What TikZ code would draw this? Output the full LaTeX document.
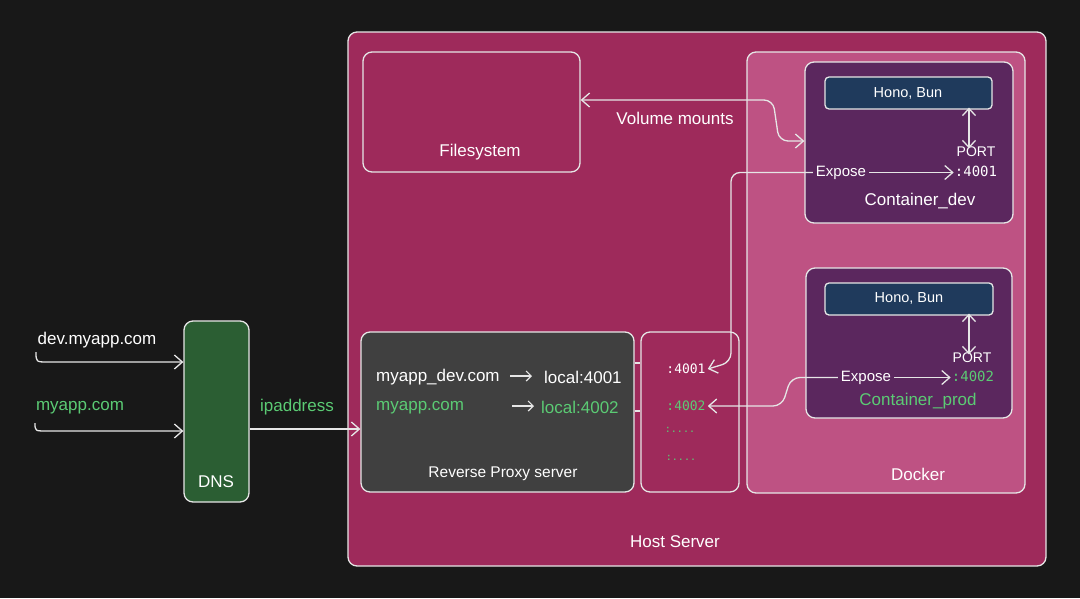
\documentclass[tikz,border=0pt]{standalone}
\usepackage{fontspec}
\setmainfont{Liberation Sans}
\newfontfamily\monof{DejaVu Sans Mono}
\usetikzlibrary{arrows.meta}
\definecolor{bg}{HTML}{181818}
\definecolor{host}{HTML}{9E2A5B}
\definecolor{dock}{HTML}{BE5283}
\definecolor{cont}{HTML}{5B275E}
\definecolor{hono}{HTML}{1F3A5C}
\definecolor{proxy}{HTML}{404040}
\definecolor{dnsc}{HTML}{2B5E33}
\definecolor{grn}{HTML}{5BCB74}
\definecolor{ln}{HTML}{E6E6E6}
\begin{document}
\begin{tikzpicture}[x=1pt,y=-1pt,
  box/.style={draw=ln,line width=1.3pt,rounded corners=9pt,inner sep=0pt},
  lbl/.style={text=white,inner sep=0pt,yshift=-1.5pt,font=\fontsize{17}{20}\selectfont},
  sml/.style={text=white,inner sep=0pt,yshift=-1.5pt,font=\fontsize{15}{18}\selectfont},
  mono/.style={text=white,inner sep=0pt,font=\fontsize{14}{17}\monof},
  conn/.style={draw=ln,line width=1.3pt,rounded corners=9pt,-{Straight Barb[length=8pt,width=14pt]}},
  dconn/.style={draw=ln,line width=1.3pt,rounded corners=9pt,{Straight Barb[length=7pt,width=13pt]}-{Straight Barb[length=7pt,width=13pt]}},
  sconn/.style={draw=ln,line width=1.2pt,-{Straight Barb[length=5pt,width=10pt]}},
  plain/.style={draw=ln,line width=1.3pt}]
\fill[bg] (0,0) rectangle (1080,598);
\useasboundingbox (0,0) rectangle (1080,598);
% boxes
\node[box,fill=host,minimum width=698pt,minimum height=534pt] (host) at (697,299) {};
\node[box,fill=host,minimum width=217pt,minimum height=120pt] (fs) at (471.5,112) {};
\node[box,fill=dock,minimum width=278pt,minimum height=441pt] (docker) at (886,272.5) {};
\node[box,fill=cont,minimum width=208pt,minimum height=161pt] (cdev) at (909,142.5) {};
\node[box,fill=hono,rounded corners=4pt,minimum width=167pt,minimum height=32pt] (hono1) at (908.5,93) {};
\node[box,fill=cont,minimum width=206pt,minimum height=150pt] (cprod) at (909,343) {};
\node[box,fill=hono,rounded corners=4pt,minimum width=168pt,minimum height=32pt] (hono2) at (909,299) {};
\node[box,fill=proxy,minimum width=273pt,minimum height=160pt] (proxy) at (497.5,412) {};
\node[box,fill=host,minimum width=98pt,minimum height=160pt] (ports) at (690,412) {};
\node[box,fill=dnsc,minimum width=65pt,minimum height=181pt] (dns) at (216.5,411.5) {};
% labels
\node[lbl] (hostl) at (675,540) {Host Server};
\node[lbl] (fsl) at (480,151) {Filesystem};
\node[lbl] (dockl) at (918,473) {Docker};
\node[lbl] (voll) at (675,117) {Volume mounts};
\node[sml,font=\fontsize{14.5}{17}\selectfont] (h1l) at (908,92) {Hono, Bun};
\node[sml,font=\fontsize{14.5}{17}\selectfont] (h2l) at (909,297) {Hono, Bun};
\node[sml,font=\fontsize{14}{17}\selectfont] (port1) at (976,150) {PORT};
\node[sml,font=\fontsize{14}{17}\selectfont] (port2) at (972,356) {PORT};
\node[mono] (p1) at (976,171) {:4001};
\node[mono,text=grn] (p2) at (973,376) {:4002};
\node[sml] (ex1) at (841,171) {Expose};
\node[sml] (ex2) at (866,376) {Expose};
\node[lbl] (cdevl) at (920,200) {Container\_dev};
\node[lbl,text=grn] (cprodl) at (918,400) {Container\_prod};
% proxy
\node[lbl,anchor=west] (r1a) at (376,376) {myapp\_dev.com};
\node[lbl,anchor=west] (r1b) at (544,376) {local:4001};
\node[lbl,anchor=west,text=grn] (r2a) at (376,406) {myapp.com};
\node[lbl,anchor=west,text=grn] (r2b) at (541,406) {local:4002};
\node[sml,font=\fontsize{15.5}{18}\selectfont] (proxyl) at (503,472) {Reverse Proxy server};
\coordinate (r1s) at (510,376); \coordinate (r2s) at (512,406);
% ports
\node[mono,font=\fontsize{13}{15}\monof] (q1) at (686,369) {:4001};
\node[mono,font=\fontsize{13}{15}\monof,text=grn] (q2) at (686,406) {:4002};
\node[mono,font=\fontsize{10}{12}\monof,text=grn] (q3) at (680,430) {:....};
\node[mono,font=\fontsize{10}{12}\monof,text=grn] (q4) at (681,458) {:....};
% dns side
\node[lbl] (dnsl) at (216,480) {DNS};
\node[lbl] (devl) at (97,339) {dev.myapp.com};
\node[lbl,text=grn] (appl) at (80,406) {myapp.com};
\node[lbl,text=grn] (ipl) at (297,406) {ipaddress};
\coordinate (s1) at (36,352); \coordinate (s2) at (35,423);
\coordinate (y1) at (0,362); \coordinate (y2) at (0,431); \coordinate (y3) at (0,429);
% connectors
\draw[conn,rounded corners=0pt] (s1) .. controls (36,362) .. (48,362) -- (dns.west |- y1);
\draw[conn,rounded corners=0pt] (s2) .. controls (35,431) .. (47,431) -- (dns.west |- y2);
\draw[conn] (dns.east |- y3) -- (proxy.west |- y3);
\draw[sconn] (r1s) -- ++(22,0);
\draw[sconn] (r2s) -- ++(22,0);
\coordinate (k1) at (0,363); \coordinate (k2) at (0,411);
\draw[plain] (proxy.east |- k1) -- (ports.west |- k1);
\draw[plain] (proxy.east |- k2) -- (ports.west |- k2);
\coordinate (v1) at (0,100); \coordinate (v2) at (0,141);
\draw[dconn,{Straight Barb[length=8pt,width=14pt]}-{Straight Barb[length=8pt,width=14pt]}] (fs.east |- v1) -- (773,100) -- (779,141) -- (cdev.west |- v2);
\draw[conn] ([xshift=-3pt]ex1.west) -- (731,172.5) -- (731,362) -- ([xshift=2pt]q1.east);
\draw[conn] ([xshift=-3pt]ex2.west) -- (791,377.5) -- (782,406) -- ([xshift=2pt]q2.east);
\draw[conn] ([xshift=3pt]ex1.east) -- ([xshift=-1pt]p1.west |- ex1.east);
\draw[conn] ([xshift=3pt]ex2.east) -- ([xshift=-1pt]p2.west |- ex2.east);
\coordinate (a1) at (969,0); \coordinate (a2) at (969,0);
\draw[dconn] ([yshift=2pt]hono1.south -| a1) -- ([yshift=-2pt]port1.north -| a1);
\draw[dconn] ([yshift=2pt]hono2.south -| a2) -- ([yshift=-2pt]port2.north -| a2);
\end{tikzpicture}
\end{document}
